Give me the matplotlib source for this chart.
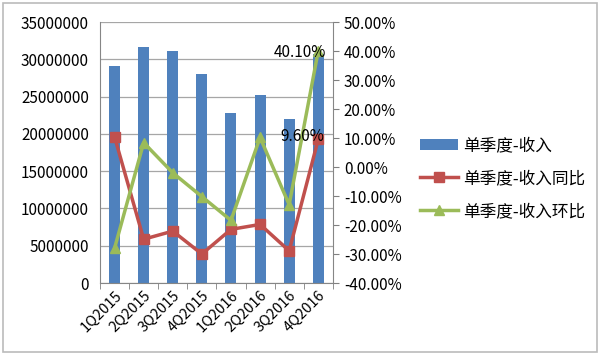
import numpy as np
import matplotlib.pyplot as plt
from matplotlib.patches import Rectangle
from matplotlib.ticker import FuncFormatter

plt.rcParams['font.family'] = ['Noto Sans CJK SC', 'DejaVu Sans']

quarters = ["1Q2015", "2Q2015", "3Q2015", "4Q2015", "1Q2016", "2Q2016", "3Q2016", "4Q2016"]
revenue = [29100000, 31600000, 31150000, 28000000, 22800000, 25200000, 21950000, 30700000]
yoy = [10.4, -24.9, -22.1, -30.0, -21.5, -19.8, -28.9, 9.6]
qoq = [-28.0, 8.4, -2.0, -10.2, -18.4, 10.2, -13.0, 40.1]

BLUE = "#4F81BD"
RED = "#C0504D"
GREEN = "#9BBB59"

fig = plt.figure(figsize=(6, 3.61), dpi=100)
fig.patches.append(Rectangle((0.005, 0.025), 0.99, 0.968, transform=fig.transFigure,
                             fill=False, edgecolor="#BBBBBB", linewidth=1.2))

ax = fig.add_axes([0.1667, 0.216, 0.388, 0.723])
x = np.arange(len(quarters))

ax.bar(x, revenue, width=0.38, color=BLUE, label="单季度-收入", zorder=2)
ax.set_ylim(0, 35000000)
ax.set_yticks(np.arange(0, 35000001, 5000000))
ax.yaxis.set_major_formatter(FuncFormatter(lambda v, p: "%d" % v))
ax.set_xlim(-0.5, len(quarters) - 0.5)
ax.grid(axis="y", color="#A6A6A6", linewidth=0.9, zorder=0)
ax.set_axisbelow(True)

ax.set_xticks(x)
ax.set_xticklabels(quarters, rotation=45, ha="right", rotation_mode="anchor", fontsize=10.5)
ax.tick_params(axis="x", length=0, pad=4)
ax.set_xticks(np.arange(-0.5, len(quarters)), minor=True)
ax.tick_params(axis="x", which="minor", length=4, color="#808080", direction="out")
ax.tick_params(axis="y", length=0, labelsize=11, pad=8)

for s in ["top", "right"]:
    ax.spines[s].set_visible(False)
ax.spines["left"].set_color("#868686")
ax.spines["bottom"].set_color("#868686")

ax2 = ax.twinx()
ax2.plot(x, yoy, color=RED, linewidth=2.5, marker="s", markersize=6.5, label="单季度-收入同比", zorder=3)
ax2.plot(x, qoq, color=GREEN, linewidth=2.5, marker="^", markersize=6.5, label="单季度-收入环比", zorder=3)
ax2.set_ylim(-40, 50)
ax2.set_yticks(np.arange(-40, 51, 10))
ax2.yaxis.set_major_formatter(FuncFormatter(lambda v, p: "%.2f%%" % v))
ax2.tick_params(axis="y", length=4, color="#808080", labelsize=11, pad=4)
for s in ["top", "left", "bottom"]:
    ax2.spines[s].set_visible(False)
ax2.spines["right"].set_color("#868686")

ax2.annotate("%.2f%%" % qoq[-1], (x[-1], qoq[-1]), xytext=(6, -1), textcoords="offset points",
             ha="right", va="center", fontsize=11)
ax2.annotate("%.2f%%" % yoy[-1], (x[-1], yoy[-1]), xytext=(4, 2), textcoords="offset points",
             ha="right", va="center", fontsize=11)

h1, l1 = ax.get_legend_handles_labels()
h2, l2 = ax2.get_legend_handles_labels()
fig.legend(h1 + h2, l1 + l2, loc="center left", bbox_to_anchor=(0.675, 0.505),
           frameon=False, fontsize=12, handlelength=2.3, handletextpad=0.3, labelspacing=0.95)

fig.savefig("out.png", dpi=100)
